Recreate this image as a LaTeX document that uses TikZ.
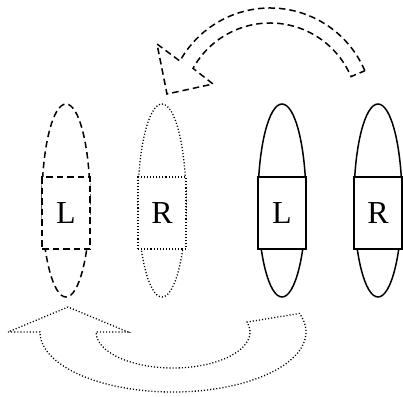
\documentclass[tikz,border=0pt]{standalone}
\usepackage{fontspec}
\setmainfont{Liberation Serif}
\usetikzlibrary{shapes.geometric,positioning}

\begin{document}
\begin{tikzpicture}[x=1pt,y=1pt,line width=1.5pt,
                    lobe/.style={ellipse,draw,minimum width=48pt,minimum height=193pt,inner sep=0pt},
                    slot/.style={rectangle,draw,fill=white,minimum width=48pt,minimum height=72pt,
                    inner sep=0pt,font=\fontsize{32}{38}\selectfont},
                    dash line/.style={dash pattern=on 6.5pt off 4pt},
                    dot line/.style={line width=1.3pt,dash pattern=on 1.1pt off 2pt}]

\useasboundingbox (0,0) rectangle (403,-396);

% the four lobes
\node[lobe,dash line] (lobeA) at (66,-200.5) {};
\node[lobe,dot line] (lobeB) [right=46.6pt of lobeA] {};
\node[lobe] (lobeC) [right=70.6pt of lobeB] {};
\node[lobe] (lobeD) [right=46.5pt of lobeC] {};

% the slots sit a little below the middle
\node[slot,dash line] (slotA) at ([yshift=-12.5pt]lobeA.center) {L};
\node[slot,dot line] (slotB) at ([yshift=-12.5pt]lobeB.center) {R};
\node[slot] (slotC) at ([yshift=-12.5pt]lobeC.center) {L};
\node[slot] (slotD) at ([yshift=-12.5pt]lobeD.center) {R};

% upper curved arrow
\coordinate (topc) at (270,-111);
\draw[dash line] ([shift={(23:103)}]topc) arc[start angle=23,end angle=151,radius=103]
    -- (157,-44) -- (167,-94) -- (213,-84)
    -- ([shift={(151:88)}]topc) arc[start angle=151,end angle=23,radius=88] -- cycle;

% lower curved arrow
\coordinate (botc) at (173,-332);
\draw[dot line] (8,-332) -- ([shift={(180:133 and 60)}]botc)
    arc[start angle=180,end angle=378,x radius=133,y radius=60]
    -- ([shift={(16:77 and 36)}]botc) arc[start angle=16,end angle=-180,x radius=77,y radius=36]
    -- (128,-332) -- (68,-307) -- cycle;

\end{tikzpicture}
\end{document}
